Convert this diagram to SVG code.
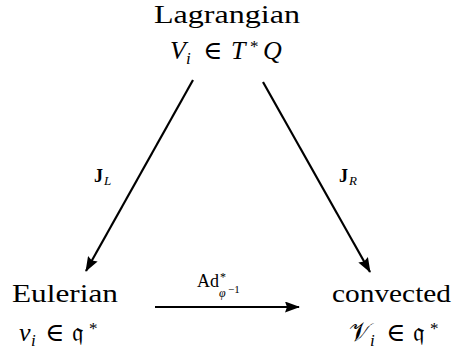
<svg xmlns="http://www.w3.org/2000/svg" width="455" height="360" viewBox="0 0 455 360" font-family="'Liberation Serif','DejaVu Serif',serif">
<defs>
<marker id="ah" viewBox="0 0 15 11" refX="14" refY="5.5" markerWidth="15" markerHeight="11" markerUnits="userSpaceOnUse" orient="auto">
<path d="M0,0 L15,5.5 L0,11 L2,5.5 z" fill="#000"/>
</marker>
<style>
text{font-family:"Liberation Serif","DejaVu Serif",serif;fill:#000}
.t{font-size:26px}
.m{font-size:26px}
.i{font-style:italic}
.s{font-size:17px}
.b{font-weight:bold}
.c{stroke:#000;stroke-width:2.2;fill:none}
</style>
</defs>
<rect width="455" height="360" fill="#fff"/>
<g id="connectors">
<line class="c" x1="193" y1="80" x2="86" y2="271" marker-end="url(#ah)"/>
<line class="c" x1="263" y1="82" x2="370" y2="272" marker-end="url(#ah)"/>
<line class="c" x1="155" y1="307" x2="299" y2="307" marker-end="url(#ah)"/>
<g id="label-JL"><text font-size="18"><tspan class="b" x="94" y="182">J</tspan><tspan class="i" font-size="13" x="104" y="185">L</tspan></text></g>
<g id="label-JR"><text font-size="18"><tspan class="b" x="339" y="182">J</tspan><tspan class="i" font-size="13" x="349" y="185">R</tspan></text></g>
<g id="label-Ad"><text font-size="18"><tspan x="197" y="287">Ad</tspan><tspan font-size="12" x="220" y="281">*</tspan><tspan class="i" font-size="12" x="219" y="297">φ</tspan><tspan font-size="11" x="228" y="293">−1</tspan></text></g>
</g>
<g id="node-lagrangian">
<text class="t" x="154" y="23" textLength="146" lengthAdjust="spacingAndGlyphs">Lagrangian</text>
<text class="m"><tspan class="i" x="170" y="59">V</tspan><tspan class="i s" x="186" y="64">i</tspan><tspan x="203" y="59">∈</tspan><tspan class="i" x="231" y="59">T</tspan><tspan class="s" x="250" y="52">*</tspan><tspan class="i" x="263" y="59">Q</tspan></text>
</g>
<g id="node-eulerian">
<text class="t" x="12" y="302" textLength="106" lengthAdjust="spacingAndGlyphs">Eulerian</text>
<text class="m"><tspan class="i" x="19" y="341">v</tspan><tspan class="i s" x="31" y="346">i</tspan><tspan x="45" y="341">∈</tspan><tspan x="72" y="341">𝔮</tspan><tspan class="s" x="89" y="334">*</tspan></text>
</g>
<g id="node-convected">
<text class="t" x="332" y="302" textLength="119" lengthAdjust="spacingAndGlyphs">convected</text>
<text class="m"><tspan x="349" y="341">𝒱</tspan><tspan class="i s" x="370" y="346">i</tspan><tspan x="386" y="341">∈</tspan><tspan x="413" y="341">𝔮</tspan><tspan class="s" x="430" y="334">*</tspan></text>
</g>
</svg>
